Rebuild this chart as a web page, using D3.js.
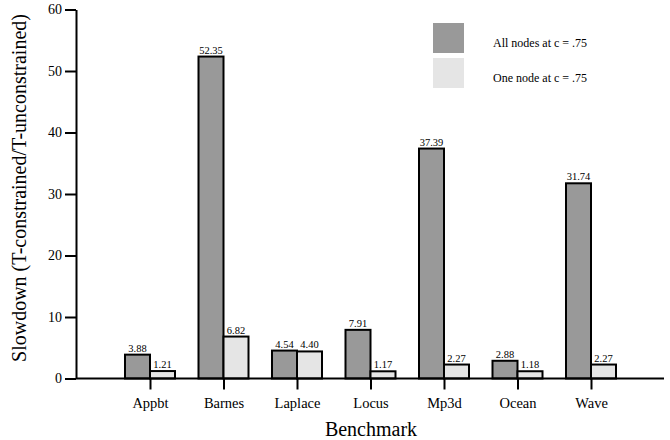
<!DOCTYPE html>
<html>
<head>
<meta charset="utf-8">
<script src="https://cdn.jsdelivr.net/npm/d3@7/dist/d3.min.js"></script>
<style>
  html, body { margin: 0; padding: 0; background: #fff; }
  svg { display: block; }
</style>
</head>
<body>
<svg id="chart" width="670" height="440"></svg>
<script>
// Benchmarks and slowdown values for the two configurations
const benchmarks = ["Appbt", "Barnes", "Laplace", "Locus", "Mp3d", "Ocean", "Wave"];
const allNodes = [3.88, 52.35, 4.54, 7.91, 37.39, 2.88, 31.74];
const oneNode = [1.21, 6.82, 4.40, 1.17, 2.27, 1.18, 2.27];
const seriesNames = ["All nodes at c = .75", "One node at c = .75"];
const yTicks = [0, 10, 20, 30, 40, 50, 60];

const FONT = "'Liberation Serif', 'Times New Roman', Times, serif";
const colors = ["#999999", "#e5e5e5"];
const svg = d3.select("#chart");

const x0 = 76, x1 = 664;
const y = d3.scaleLinear().domain([0, 60]).range([378.5, 9.5]);
const xc = d3.scalePoint().domain(benchmarks).range([150, 591]);
const barW = 25;

// y axis
const yAxis = svg.append("g").attr("transform", `translate(${x0},0)`)
  .call(d3.axisLeft(y).tickValues(yTicks).tickSize(11).tickPadding(3).tickSizeOuter(0));
yAxis.attr("font-family", null);
yAxis.select(".domain").attr("stroke", "#000").attr("stroke-width", 2);
yAxis.selectAll(".tick line").attr("stroke", "#000").attr("stroke-width", 2);
yAxis.selectAll(".tick text").style("font-family", FONT).style("font-size", "14px").attr("fill", "#000");

// bars
const series = [allNodes, oneNode];
series.forEach((vals, si) => {
  const g = svg.append("g");
  g.selectAll("rect").data(benchmarks).join("rect")
    .attr("x", d => xc(d) + (si === 0 ? -barW : 0))
    .attr("y", (d, i) => y(vals[i]))
    .attr("width", barW)
    .attr("height", (d, i) => y(0) - y(vals[i]))
    .attr("fill", colors[si])
    .attr("stroke", "#000")
    .attr("stroke-width", 2);
  g.selectAll("text").data(benchmarks).join("text")
    .attr("x", d => xc(d) + (si === 0 ? -barW / 2 : barW / 2))
    .attr("y", (d, i) => y(vals[i]) - 3)
    .attr("text-anchor", "middle")
    .style("font-family", FONT).style("font-size", "10.5px")
    .text((d, i) => vals[i].toFixed(2));
});

// x axis baseline and category ticks
svg.append("line").attr("x1", x0).attr("x2", x1).attr("y1", y(0)).attr("y2", y(0))
  .attr("stroke", "#000").attr("stroke-width", 2);
const xAxis = svg.append("g").attr("transform", `translate(0,${y(0)})`)
  .call(d3.axisBottom(xc).tickSize(11).tickPadding(8).tickSizeOuter(0));
xAxis.attr("font-family", null);
xAxis.select(".domain").remove();
xAxis.selectAll(".tick line").attr("stroke", "#000").attr("stroke-width", 2);
xAxis.selectAll(".tick text").style("font-family", FONT).style("font-size", "14.5px").attr("fill", "#000");

// axis titles
svg.append("text").attr("x", 371).attr("y", 436).attr("text-anchor", "middle")
  .style("font-family", FONT).style("font-size", "20px").text("Benchmark");
svg.append("text").attr("transform", "translate(26,188) rotate(-90)")
  .attr("text-anchor", "middle").style("font-family", FONT).style("font-size", "20px")
  .text("Slowdown (T-constrained/T-unconstrained)");

// legend
const legend = svg.append("g");
seriesNames.forEach((name, i) => {
  legend.append("rect").attr("x", 433).attr("y", 23 + i * 35).attr("width", 31).attr("height", 30)
    .attr("fill", colors[i]);
  legend.append("text").attr("x", 493).attr("y", 47 + i * 35)
    .style("font-family", FONT).style("font-size", "12px").text(name);
});
</script>
</body>
</html>
